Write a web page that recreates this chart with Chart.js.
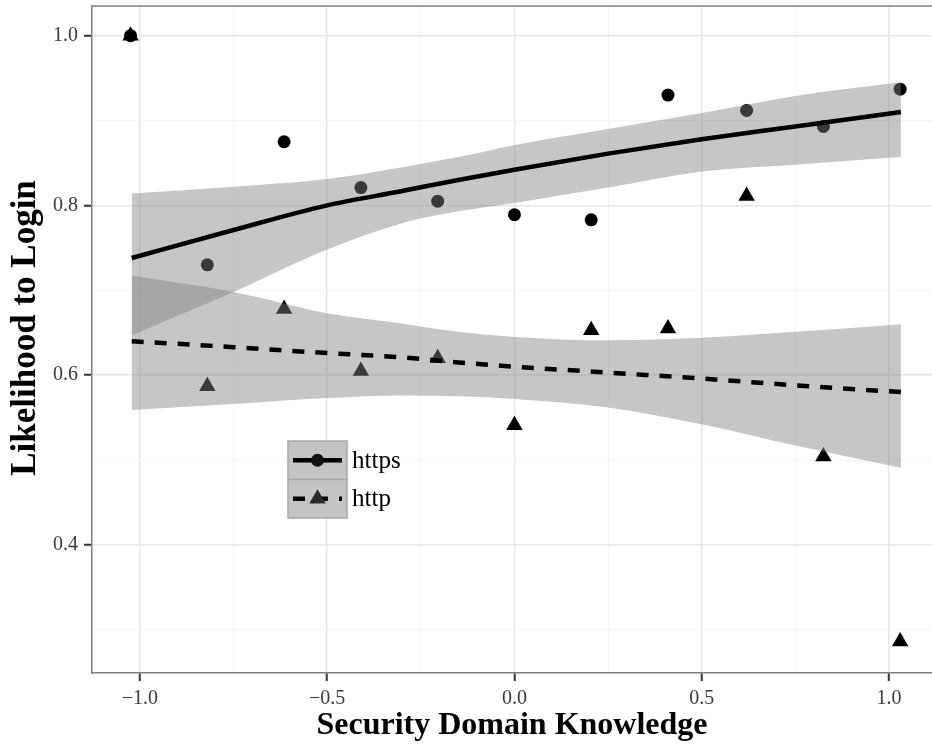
<!DOCTYPE html>
<html>
<head>
<meta charset="utf-8">
<script src="https://cdn.jsdelivr.net/npm/chart.js@4/dist/chart.umd.min.js"></script>
<style>
  html, body { margin: 0; padding: 0; background: #fff; }
  #wrap { width: 932px; height: 746px; position: relative; }
</style>
</head>
<body>
<div id="wrap"><canvas id="ch-login"></canvas></div>
<script>
// observed groups: knowledge score vs likelihood to login
const knowledge = [-1.025, -0.82, -0.615, -0.41, -0.205, 0, 0.205, 0.41, 0.62, 0.825, 1.03];
const httpsRate = [1.0, 0.730, 0.875, 0.821, 0.805, 0.789, 0.783, 0.930, 0.912, 0.893, 0.937];
const httpRate  = [1.0, 0.587, 0.678, 0.605, 0.620, 0.541, 0.653, 0.655, 0.811, 0.504, 0.286];

// fitted curves and confidence bands
const fitX       = [-1.022, -0.75, -0.5, -0.3, -0.15, 0, 0.25, 0.5, 0.75, 1.032];
const httpsFit   = [0.738, 0.771, 0.800, 0.817, 0.830, 0.842, 0.861, 0.878, 0.893, 0.910];
const httpsUpper = [0.814, 0.822, 0.831, 0.845, 0.857, 0.871, 0.890, 0.909, 0.929, 0.945];
const httpsLower = [0.647, 0.698, 0.748, 0.779, 0.793, 0.803, 0.821, 0.840, 0.848, 0.857];
const httpFit    = [0.640, 0.633, 0.626, 0.621, 0.615, 0.610, 0.603, 0.596, 0.588, 0.580];
const httpUpper  = [0.717, 0.698, 0.673, 0.661, 0.651, 0.645, 0.641, 0.644, 0.651, 0.660];
const httpLower  = [0.559, 0.566, 0.573, 0.576, 0.575, 0.572, 0.562, 0.542, 0.517, 0.491];

const xTicks = [-1.0, -0.5, 0.0, 0.5, 1.0];
const xMinor = [-0.75, -0.25, 0.25, 0.75];
const yTicks = [0.4, 0.6, 0.8, 1.0];
const yMinor = [0.3, 0.5, 0.7, 0.9];
const seriesNames = ['https', 'http'];
const xTitle = 'Security Domain Knowledge';
const yTitle = 'Likelihood to Login';

const SERIF = "'Liberation Serif', 'Times New Roman', serif";
const BAND = 'rgba(128,128,128,0.45)';

const pts = (xs, ys) => xs.map((x, i) => ({ x: x, y: ys[i] }));
const isMajor = (list, v) => list.some(t => Math.abs(t - v) < 1e-6);
const fmt = v => v.toFixed(1).replace('-', '\u2212');

function bandLine(data, fill) {
  return { data: data, showLine: true, borderWidth: 0, pointRadius: 0, backgroundColor: BAND,
           fill: fill, cubicInterpolationMode: 'monotone', order: 2 };
}

function gridOpts(major) {
  return {
    color: c => (c.tick && isMajor(major, c.tick.value)) ? '#e6e6e6' : '#f4f4f4',
    lineWidth: c => (c.tick && isMajor(major, c.tick.value)) ? 1.5 : 1,
    tickColor: c => (c.tick && isMajor(major, c.tick.value)) ? '#333333' : 'rgba(0,0,0,0)',
    tickLength: 8, tickWidth: 2, drawTicks: true
  };
}

function noPad(s) { s.paddingTop = 0; s.paddingBottom = 0; s.paddingLeft = 0; s.paddingRight = 0; }

// legend inside the panel, like the ggplot key, plus top edge and y title
const keyLegend = {
  id: 'keyLegend',
  afterDraw(chart) {
    const ctx = chart.ctx;
    const x0 = 288, y0 = 441, w = 59, h = 38.5;
    ctx.save();
    for (let i = 0; i < 2; i++) {
      const top = y0 + i * h;
      ctx.fillStyle = '#c4c4c4';
      ctx.fillRect(x0, top, w, h);
      ctx.strokeStyle = '#a8a8a8';
      ctx.lineWidth = 1.5;
      ctx.strokeRect(x0, top, w, h);
      const cy = top + h / 2;
      ctx.strokeStyle = '#000';
      ctx.lineWidth = 4.5;
      ctx.setLineDash(i === 0 ? [] : [12, 11]);
      ctx.beginPath(); ctx.moveTo(x0 + 5, cy); ctx.lineTo(x0 + w - 5, cy); ctx.stroke();
      ctx.setLineDash([]);
      ctx.fillStyle = i === 0 ? '#111' : '#2a2a2a';
      ctx.beginPath();
      if (i === 0) {
        ctx.arc(x0 + w / 2, cy, 6.5, 0, Math.PI * 2);
      } else {
        const r = 9.5, cx = x0 + w / 2;
        ctx.moveTo(cx, cy - r);
        ctx.lineTo(cx + r * 0.866, cy + r * 0.5);
        ctx.lineTo(cx - r * 0.866, cy + r * 0.5);
        ctx.closePath();
      }
      ctx.fill();
      ctx.fillStyle = '#000';
      ctx.font = '25px ' + SERIF;
      ctx.textBaseline = 'middle';
      ctx.textAlign = 'left';
      ctx.fillText(seriesNames[i], x0 + w + 5, cy + 1);
    }
    const a = chart.chartArea;
    ctx.strokeStyle = '#7f7f7f';
    ctx.lineWidth = 1.5;
    ctx.beginPath(); ctx.moveTo(a.left, a.top); ctx.lineTo(a.right + 2, a.top); ctx.stroke();

    ctx.translate(26, 328);
    ctx.rotate(-Math.PI / 2);
    ctx.fillStyle = '#000';
    ctx.font = 'bold 35px ' + SERIF;
    ctx.textAlign = 'center';
    ctx.textBaseline = 'middle';
    ctx.fillText(yTitle, 0, 0);
    ctx.restore();
  }
};

new Chart(document.getElementById('ch-login'), {
  type: 'scatter',
  data: {
    datasets: [
      bandLine(pts(fitX, httpsUpper), '+1'),
      bandLine(pts(fitX, httpsLower), false),
      bandLine(pts(fitX, httpUpper), '+1'),
      bandLine(pts(fitX, httpLower), false),
      { label: 'https fit', data: pts(fitX, httpsFit), showLine: true, borderColor: '#000', borderWidth: 4.5,
        pointRadius: 0, cubicInterpolationMode: 'monotone', order: 1 },
      { label: 'http fit', data: pts(fitX, httpFit), showLine: true, borderColor: '#000', borderWidth: 4.5,
        borderDash: [12, 11], pointRadius: 0, cubicInterpolationMode: 'monotone', order: 1 },
      { label: 'https', data: pts(knowledge, httpsRate), pointStyle: 'circle', pointRadius: 6.5,
        backgroundColor: '#000', borderWidth: 0, order: 3 },
      { label: 'http', data: pts(knowledge, httpRate), pointStyle: 'triangle', pointRadius: 9.5,
        backgroundColor: '#000', borderWidth: 0, order: 3 }
    ]
  },
  options: {
    responsive: true, maintainAspectRatio: false, animation: false,
    layout: { autoPadding: false, padding: { top: 6, right: 0, left: 0, bottom: 0 } },
    plugins: { legend: { display: false }, tooltip: { enabled: false } },
    scales: {
      x: {
        type: 'linear', min: -1.128, max: 1.115,
        afterBuildTicks: s => { s.ticks = xTicks.concat(xMinor).sort((a, b) => a - b).map(v => ({ value: v })); },
        afterFit: s => { s.height = 73; noPad(s); },
        ticks: { color: '#3a3a3a', font: { family: SERIF, size: 20 }, padding: 6, maxRotation: 0, autoSkip: false,
                 callback: v => isMajor(xTicks, v) ? fmt(v) : '' },
        grid: gridOpts(xTicks),
        border: { display: true, color: '#7f7f7f', width: 1.5 },
        title: { display: true, text: xTitle, color: '#000',
                 font: { family: SERIF, size: 32, weight: 'bold', lineHeight: 1.2 }, padding: { top: 0, bottom: 1 } }
      },
      y: {
        type: 'linear', min: 0.249, max: 1.035,
        afterBuildTicks: s => { s.ticks = yTicks.concat(yMinor).sort((a, b) => a - b).map(v => ({ value: v })); },
        afterFit: s => { s.width = 92; noPad(s); },
        ticks: { color: '#3a3a3a', font: { family: SERIF, size: 20 }, padding: 6, autoSkip: false,
                 callback: v => isMajor(yTicks, v) ? fmt(v) : '' },
        grid: gridOpts(yTicks),
        border: { display: true, color: '#7f7f7f', width: 1.5 },
        title: { display: false }
      }
    }
  },
  plugins: [keyLegend]
});
</script>
</body>
</html>
